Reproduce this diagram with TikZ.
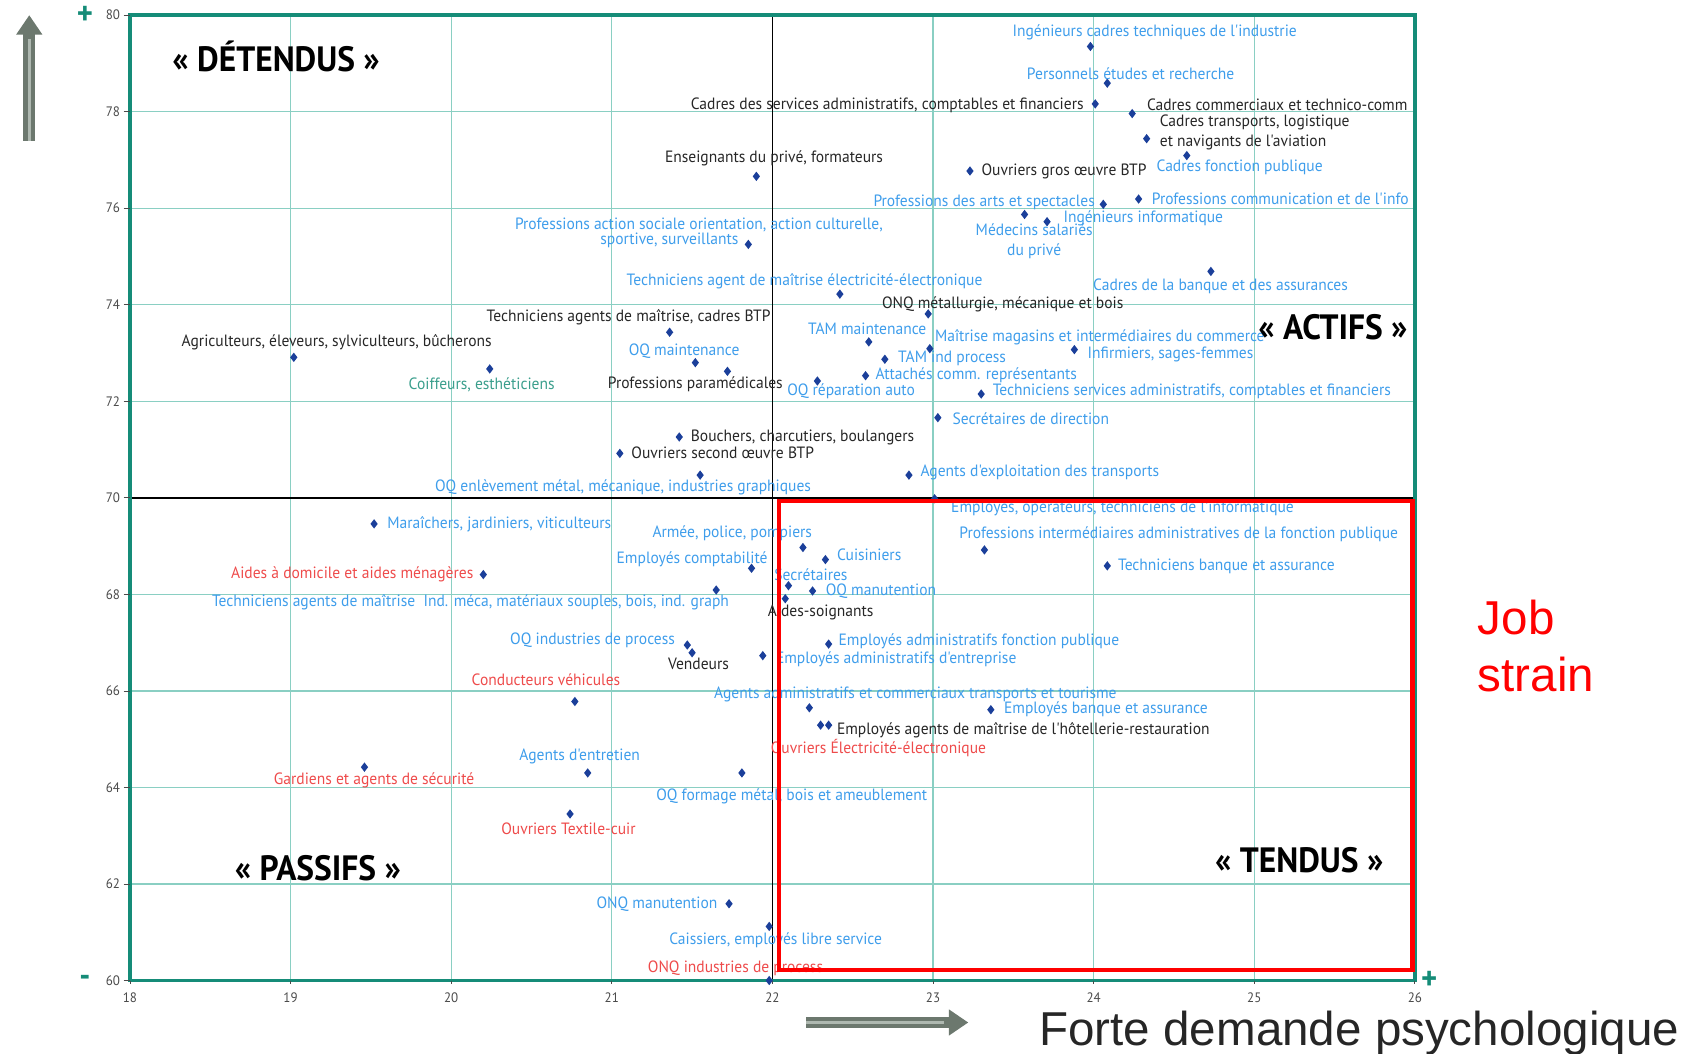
\documentclass[tikz,border=0pt]{standalone}
\usepackage{fontspec}
\newfontfamily\labelfont{PT Sans}[FakeStretch=0.95]
\newfontfamily\arialfont{Liberation Sans}
\usetikzlibrary{shapes.geometric,arrows.meta}
\definecolor{labelblue}{HTML}{3E9DEB}
\definecolor{labelred}{HTML}{EE4B4B}
\definecolor{labelteal}{HTML}{3A9E8C}
\definecolor{labeldark}{HTML}{262626}
\definecolor{markblue}{HTML}{1B3F9A}
\definecolor{gridteal}{HTML}{8ACFC3}
\definecolor{frameteal}{HTML}{158C78}
\definecolor{arrowgray}{HTML}{6C786E}
\definecolor{arrowlight}{HTML}{AEB8B0}
\definecolor{ticktext}{HTML}{4A4A4A}
\tikzset{every node/.style={draw=none,inner sep=0pt},
  mk/.style={diamond,fill=markblue,minimum width=1.4mm,minimum height=1.8mm},
  lbl/.style={font=\labelfont\fontsize{8.6}{10.5}\selectfont},
  blu/.style={lbl,text=labelblue},
  rd/.style={lbl,text=labelred},
  tl/.style={lbl,text=labelteal},
  blk/.style={lbl,text=labeldark},
  quad/.style={font=\labelfont\bfseries\fontsize{18.5}{22}\selectfont,text=black},
  ticklbl/.style={font=\labelfont\fontsize{7.2}{8}\selectfont,text=ticktext},
  sign/.style={font=\labelfont\bfseries\fontsize{17}{17}\selectfont,text=frameteal},
  bigarrow/.style={line width=2.2mm,arrowgray,-{Triangle[width=4.6mm,length=3.6mm]}},
  arrowstripe/.style={line width=0.5mm,arrowlight}}

\begin{document}
\begin{tikzpicture}[x=2.968cm,y=0.892cm]
\useasboundingbox (17.191,58.498) rectangle (27.757,80.314);

% grid
\foreach \x in {19,...,25}
  \draw[gridteal,line width=0.7pt] (\x,60) -- (\x,80);
\foreach \y in {62,64,...,78}
  \draw[gridteal,line width=0.7pt] (18,\y) -- (26,\y);
\draw[black,line width=0.8pt] (22,60) -- (22,80);
\draw[black,line width=0.8pt] (18,70) -- (26,70);
\draw[frameteal,line width=1.8pt] (18,60) rectangle (26,80);

% axes
\foreach \y in {60,62,...,80} {
  \draw[ticktext,line width=0.4pt] (17.96,\y) -- (18,\y);
  \node[ticklbl,anchor=east] (ty\y) at (17.94,\y) {\y};
}
\foreach \x in {18,...,26} {
  \draw[ticktext,line width=0.4pt] (\x,60) -- (\x,59.93);
  \node[ticklbl] (tx\x) at (\x,59.65) {\x};
}
\node[sign] (plusY) at (17.72,80) {+};
\node[sign] (minus) at (17.72,60) {-};
\node[sign] (plusX) at (26.09,60) {+};

% markers
\foreach \n/\x/\y in {1/23.98/79.35, 2/24.085/78.59, 3/24.01/78.16, 4/24.24/77.96,
  5/24.33/77.44, 6/24.58/77.09, 7/23.23/76.77, 8/21.90/76.66, 9/24.06/76.08,
  10/24.28/76.19, 11/23.71/75.72, 12/23.57/75.87, 13/21.85/75.25, 14/22.42/74.22,
  15/24.73/74.69, 16/22.97/73.81, 17/21.36/73.43, 18/19.02/72.91, 19/22.60/73.23,
  20/22.98/73.09, 22/23.88/73.07, 23/22.70/72.87, 24/21.52/72.80, 25/20.24/72.67,
  26/21.72/72.62, 27/22.58/72.53, 28/22.28/72.42, 29/23.30/72.15, 30/23.03/71.66,
  31/21.42/71.26, 32/21.05/70.92, 33/21.55/70.47, 34/22.85/70.47, 35/23.01/69.98,
  36/19.52/69.46, 37/22.19/68.97, 38/23.32/68.92, 39/22.33/68.72, 40/21.87/68.54,
  41/24.085/68.59, 42/20.20/68.41, 43/22.10/68.18, 44/22.25/68.07, 45/21.65/68.09,
  46/22.08/67.91, 47/21.47/66.95, 48/21.50/66.79, 49/22.35/66.97, 50/21.94/66.73,
  51/20.77/65.78, 52/22.23/65.65, 53/23.36/65.61, 54/22.35/65.29, 55/22.30/65.29,
  56/19.46/64.42, 57/20.85/64.30, 58/21.81/64.30, 59/20.74/63.45, 60/21.73/61.59,
  61/21.98/61.12, 62/21.98/60.0}
  \node[mk] (m\n) at (\x,\y) {};

% labels
\node[blu] (l1) at (24.38,79.64) {Ingénieurs cadres techniques de l'industrie};
\node[blu] (l2) at (24.23,78.79) {Personnels études et recherche};
\node[blk,anchor=east] (l3) at (23.94,78.14) {Cadres des services administratifs, comptables et financiers};
\node[blk,anchor=west] (l4) at (24.33,78.14) {Cadres commerciaux et technico-comm};
\node[blk,anchor=west,align=left] (l5) at (24.41,77.56) {Cadres transports, logistique\\et navigants de l'aviation};
\node[blu,anchor=west] (l6) at (24.39,76.84) {Cadres fonction publique};
\node[blk,anchor=west] (l7) at (23.30,76.77) {Ouvriers gros œuvre BTP};
\node[blk] (l8) at (22.01,77.04) {Enseignants du privé, formateurs};
\node[blu,anchor=east] (l9) at (24.01,76.12) {Professions des arts et spectacles};
\node[blu,anchor=west] (l10) at (24.36,76.19) {Professions communication et de l'info};
\node[blu,anchor=west] (l11) at (23.81,75.78) {Ingénieurs informatique};
\node[blu,align=center] (l12) at (23.63,75.31) {Médecins salariés\\du privé};
\node[blu,anchor=east] (l13a) at (22.69,75.65) {Professions action sociale orientation, action culturelle,};
\node[blu,anchor=east] (l13b) at (21.79,75.34) {sportive, surveillants};
\node[blu] (l14) at (22.20,74.48) {Techniciens agent de maîtrise électricité-électronique};
\node[blu] (l15) at (24.79,74.39) {Cadres de la banque et des assurances};
\node[blk,anchor=west] (l16) at (22.68,74.01) {ONQ métallurgie, mécanique et bois};
\node[blk,anchor=east] (l17) at (21.99,73.74) {Techniciens agents de maîtrise, cadres BTP};
\node[blk,anchor=west] (l18) at (18.32,73.23) {Agriculteurs, éleveurs, sylviculteurs, bûcherons};
\node[blu] (l19) at (22.59,73.50) {TAM maintenance};
\node[blu,anchor=west] (l20) at (23.01,73.32) {Maîtrise magasins et intermédiaires du commerce};
\node[blu,anchor=west] (l22) at (23.96,72.96) {Infirmiers, sages-femmes};
\node[blu,anchor=west] (l23) at (22.78,72.89) {TAM ind process};
\node[blu] (l24) at (21.45,73.03) {OQ maintenance};
\node[tl] (l25) at (20.19,72.35) {Coiffeurs, esthéticiens};
\node[blk] (l26) at (21.52,72.35) {Professions paramédicales};
\node[blu,anchor=west] (l27) at (22.64,72.53) {Attachés comm. représentants};
\node[blu,anchor=west] (l28) at (22.09,72.20) {OQ réparation auto};
\node[blu,anchor=west] (l29) at (23.37,72.20) {Techniciens services administratifs, comptables et financiers};
\node[blu,anchor=west] (l30) at (23.12,71.64) {Secrétaires de direction};
\node[blk,anchor=west] (l31) at (21.49,71.26) {Bouchers, charcutiers, boulangers};
\node[blk,anchor=west] (l32) at (21.12,70.94) {Ouvriers second œuvre BTP};
\node[blu] (l33) at (21.07,70.22) {OQ enlèvement métal, mécanique, industries graphiques};
\node[blu,anchor=west] (l34) at (22.92,70.52) {Agents d'exploitation des transports};
\node[blu] (l35) at (24.18,69.78) {Employés, opérateurs, techniciens de l'informatique};
\node[blu,anchor=west] (l36) at (19.60,69.46) {Maraîchers, jardiniers, viticulteurs};
\node[blu] (l37) at (21.75,69.26) {Armée, police, pompiers};
\node[blu] (l38) at (24.53,69.24) {Professions intermédiaires administratives de la fonction publique};
\node[blu,anchor=west] (l39) at (22.40,68.81) {Cuisiniers};
\node[blu] (l40) at (21.50,68.72) {Employés comptabilité};
\node[blu,anchor=west] (l41) at (24.15,68.57) {Techniciens banque et assurance};
\node[rd,anchor=east] (l42) at (20.14,68.41) {Aides à domicile et aides ménagères};
\node[blu] (l43) at (22.24,68.41) {Secrétaires};
\node[blu,anchor=west] (l44) at (22.33,68.07) {OQ manutention};
\node[blu] (l45) at (20.12,67.83) {Techniciens agents de maîtrise\ \ Ind. méca, matériaux souples, bois, ind. graph};
\node[blk] (l46) at (22.30,67.62) {Aides-soignants};
\node[blu] (l47) at (20.88,67.04) {OQ industries de process};
\node[blk] (l48) at (21.54,66.55) {Vendeurs};
\node[blu,anchor=west] (l49) at (22.41,67.02) {Employés administratifs fonction publique};
\node[blu,anchor=west] (l50) at (22.02,66.66) {Employés administratifs d'entreprise};
\node[rd] (l51) at (20.59,66.23) {Conducteurs véhicules};
\node[blu] (l52) at (22.89,65.92) {Agents administratifs et commerciaux transports et tourisme};
\node[blu,anchor=west] (l53) at (23.44,65.61) {Employés banque et assurance};
\node[blk,anchor=west] (l54) at (22.40,65.18) {Employés agents de maîtrise de l'hôtellerie-restauration};
\node[rd] (l55) at (22.66,64.82) {Ouvriers Électricité-électronique};
\node[rd] (l56) at (19.52,64.15) {Gardiens et agents de sécurité};
\node[blu] (l57) at (20.80,64.64) {Agents d'entretien};
\node[blu] (l58) at (22.12,63.81) {OQ formage métal, bois et ameublement};
\node[rd] (l59) at (20.73,63.14) {Ouvriers Textile-cuir};
\node[blu,anchor=east] (l60) at (21.66,61.59) {ONQ manutention};
\node[blu] (l61) at (22.02,60.83) {Caissiers, employés libre service};
\node[rd] (l62) at (21.77,60.25) {ONQ industries de process};

% quadrants
\node[quad] (detendus) at (18.91,79.15) {« DÉTENDUS »};
\node[quad] (actifs) at (25.49,73.54) {« ACTIFS »};
\node[quad] (passifs) at (19.17,62.33) {« PASSIFS »};
\node[quad] (tendus) at (25.28,62.49) {« TENDUS »};

% job strain
\draw[red,line width=2.3pt] (22.04,60.22) rectangle (25.985,69.93);
\node[font=\arialfont\fontsize{25}{30}\selectfont,text=red,anchor=west,align=left] (jobstrain) at (26.39,66.93) {Job\\strain};

% direction arrows
\coordinate (upA) at (17.373,77.40);
\coordinate (upB) at (17.373,80.0);
\draw[bigarrow] (upA) -- (upB);
\draw[arrowstripe] (upA) -- ([yshift=-4.5mm]upB);
\coordinate (rtA) at (22.21,59.13);
\coordinate (rtB) at (23.22,59.13);
\draw[bigarrow] (rtA) -- (rtB);
\draw[arrowstripe] (rtA) -- ([xshift=-4.5mm]rtB);
\node[font=\arialfont\fontsize{25}{28}\selectfont,text=labeldark,anchor=base west] (demande) at (23.66,58.66) {Forte demande psychologique};
\end{tikzpicture}
\end{document}
